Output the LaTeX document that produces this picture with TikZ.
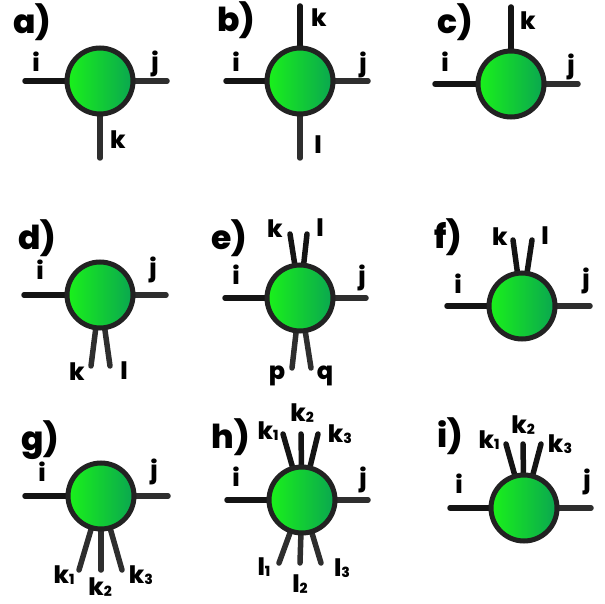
\documentclass[tikz,border=0pt]{standalone}
\usepackage{fontspec}
\setmainfont{Poppins}[BoldFont={Poppins ExtraBold}]
\usetikzlibrary{backgrounds}
\definecolor{gl}{HTML}{1AF21A}
\definecolor{gr}{HTML}{0AA650}
\definecolor{ballline}{HTML}{222222}
\definecolor{legA}{HTML}{141414}
\definecolor{legB}{HTML}{2E2E2E}
\newcommand\lowidx[1]{\raisebox{-1.5pt}{\fontsize{14}{14}\selectfont\bfseries #1}}
\tikzset{
  ball/.style={circle, minimum size=66pt, inner sep=0pt, draw=ballline, line width=5pt, left color=gl, right color=gr},
  leg/.style={line width=5.5pt, line cap=round, draw=legA},
  legb/.style={leg, draw=legB},
  lab/.style={font=\fontsize{24}{24}\selectfont\bfseries, inner sep=0pt},
  panel/.style={font=\fontsize{33}{33}\selectfont\bfseries, inner sep=0pt}
}
\begin{document}
\begin{tikzpicture}[x=1pt,y=-1pt]
\useasboundingbox (0,0) rectangle (605,604);
% ---------- a ----------
\node[ball] (A) at (100,81) {};
\coordinate (A1) at (25,81); \coordinate (A2) at (167,81); \coordinate (A3) at (100,158);
\node[panel] (Alab) at (32,22) {a)};
\node[lab] (Ai) at (36,62) {i};
\node[lab] (Aj) at (155,64) {j};
\node[lab] (Ak) at (118,140) {k};
% ---------- b ----------
\node[ball] (B) at (300,81) {};
\coordinate (B1) at (226,81); \coordinate (B2) at (368,81); \coordinate (B3) at (300,6); \coordinate (B4) at (300,158);
\node[panel] (Blab) at (236,20) {b)};
\node[lab] (Bi) at (236,62) {i};
\node[lab] (Bj) at (363,65) {j};
\node[lab] (Bk) at (319,18) {k};
\node[lab] (Bl) at (318,145) {l};
% ---------- c ----------
\node[ball] (C) at (511,84) {};
\coordinate (C1) at (435,84); \coordinate (C2) at (578,84); \coordinate (C3) at (511,7);
\node[panel] (Clab) at (455,22) {c)};
\node[lab] (Ci) at (445,62) {i};
\node[lab] (Cj) at (571,67) {j};
\node[lab] (Ck) at (528,21) {k};
% ---------- d ----------
\node[ball] (D) at (100,295) {};
\coordinate (D1) at (24,295); \coordinate (D2) at (166,295); \coordinate (D3) at (91,366); \coordinate (D4) at (110,366);
\node[panel] (Dlab) at (37,238) {d)};
\node[lab] (Di) at (40,270) {i};
\node[lab] (Dj) at (153,270) {j};
\node[lab] (Dk) at (77,372) {k};
\node[lab] (Dl) at (124,371) {l};
% ---------- e ----------
\node[ball] (E) at (300,298) {};
\coordinate (E1) at (225,298); \coordinate (E2) at (366,298);
\coordinate (E3) at (290,234); \coordinate (E4) at (307,234);
\coordinate (E5) at (292,368); \coordinate (E6) at (311,368);
\node[panel] (Elab) at (229,238) {e)};
\node[lab] (Ei) at (236,275) {i};
\node[lab] (Ej) at (362,278) {j};
\node[lab] (Ek) at (275,229) {k};
\node[lab] (El) at (320,228) {l};
\node[lab] (Ep) at (277,376) {p};
\node[lab] (Eq) at (325,376) {q};
% ---------- f ----------
\node[ball] (F) at (522,306) {};
\coordinate (F1) at (447,306); \coordinate (F2) at (590,306);
\coordinate (F3) at (513,240); \coordinate (F4) at (532,240);
\node[panel] (Flab) at (448,237) {f)};
\node[lab] (Fi) at (458,284) {i};
\node[lab] (Fj) at (586,281) {j};
\node[lab] (Fk) at (500,237) {k};
\node[lab] (Fl) at (545,236) {l};
% ---------- g ----------
\node[ball] (G) at (101,496) {};
\coordinate (G1) at (25,496); \coordinate (G2) at (168,496);
\coordinate (G3) at (79,570); \coordinate (G4) at (101,570); \coordinate (G5) at (122,570);
\node[panel] (Glab) at (40,440) {g)};
\node[lab] (Gi) at (42,472) {i};
\node[lab] (Gj) at (154,472) {j};
\node[lab] (Gk1) at (64,575) {k\lowidx{1}};
\node[lab] (Gk2) at (100,587) {k\lowidx{2}};
\node[lab] (Gk3) at (141,575) {k\lowidx{3}};
% ---------- h ----------
\node[ball] (H) at (302,500) {};
\coordinate (H1) at (227,500); \coordinate (H2) at (368,500);
\coordinate (H3) at (283,434); \coordinate (H4) at (301,434); \coordinate (H5) at (318,434);
\coordinate (H6) at (279,563); \coordinate (H7) at (300,563); \coordinate (H8) at (321,563);
\node[panel] (Hlab) at (231,437) {h)};
\node[lab] (Hi) at (236,477) {i};
\node[lab] (Hj) at (363,480) {j};
\node[lab] (Hk1) at (268,431) {k\lowidx{1}};
\node[lab] (Hk2) at (302,413) {k\lowidx{2}};
\node[lab] (Hk3) at (340,434) {k\lowidx{3}};
\node[lab] (Hl1) at (264,567) {l\lowidx{1}};
\node[lab] (Hl2) at (300,584) {l\lowidx{2}};
\node[lab] (Hl3) at (342,568) {l\lowidx{3}};
% ---------- i ----------
\node[ball] (I) at (524,508) {};
\coordinate (I1) at (450,508); \coordinate (I2) at (591,508);
\coordinate (I3) at (506,444); \coordinate (I4) at (523,444); \coordinate (I5) at (541,444);
\node[panel] (Ilab) at (450,436) {i)};
\node[lab] (Ii) at (459,484) {i};
\node[lab] (Ij) at (587,482) {j};
\node[lab] (Ik1) at (489,440) {k\lowidx{1}};
\node[lab] (Ik2) at (523,425) {k\lowidx{2}};
\node[lab] (Ik3) at (560,444) {k\lowidx{3}};
% ---------- legs ----------
\begin{scope}[on background layer]
\draw[leg] (A.center) -- (A1); \draw[legb] (A.center) -- (A2); \draw[legb] (A.center) -- (A3);
\draw[leg] (B.center) -- (B1); \draw[legb] (B.center) -- (B2); \draw[leg] (B.center) -- (B3); \draw[legb] (B.center) -- (B4);
\draw[leg] (C.center) -- (C1); \draw[legb] (C.center) -- (C2); \draw[leg] (C.center) -- (C3);
\draw[leg] (D.center) -- (D1); \draw[legb] (D.center) -- (D2); \draw[legb] (D.center) -- (D3); \draw[legb] (D.center) -- (D4);
\draw[leg] (E.center) -- (E1); \draw[legb] (E.center) -- (E2); \draw[leg] (E.center) -- (E3); \draw[leg] (E.center) -- (E4);
\draw[legb] (E.center) -- (E5); \draw[legb] (E.center) -- (E6);
\draw[leg] (F.center) -- (F1); \draw[legb] (F.center) -- (F2); \draw[leg] (F.center) -- (F3); \draw[leg] (F.center) -- (F4);
\draw[leg] (G.center) -- (G1); \draw[legb] (G.center) -- (G2);
\draw[legb] (G.center) -- (G3); \draw[legb] (G.center) -- (G4); \draw[legb] (G.center) -- (G5);
\draw[leg] (H.center) -- (H1); \draw[legb] (H.center) -- (H2);
\draw[leg] (H.center) -- (H3); \draw[leg] (H.center) -- (H4); \draw[leg] (H.center) -- (H5);
\draw[legb] (H.center) -- (H6); \draw[legb] (H.center) -- (H7); \draw[legb] (H.center) -- (H8);
\draw[leg] (I.center) -- (I1); \draw[legb] (I.center) -- (I2);
\draw[leg] (I.center) -- (I3); \draw[leg] (I.center) -- (I4); \draw[leg] (I.center) -- (I5);
\end{scope}
\end{tikzpicture}
\end{document}
